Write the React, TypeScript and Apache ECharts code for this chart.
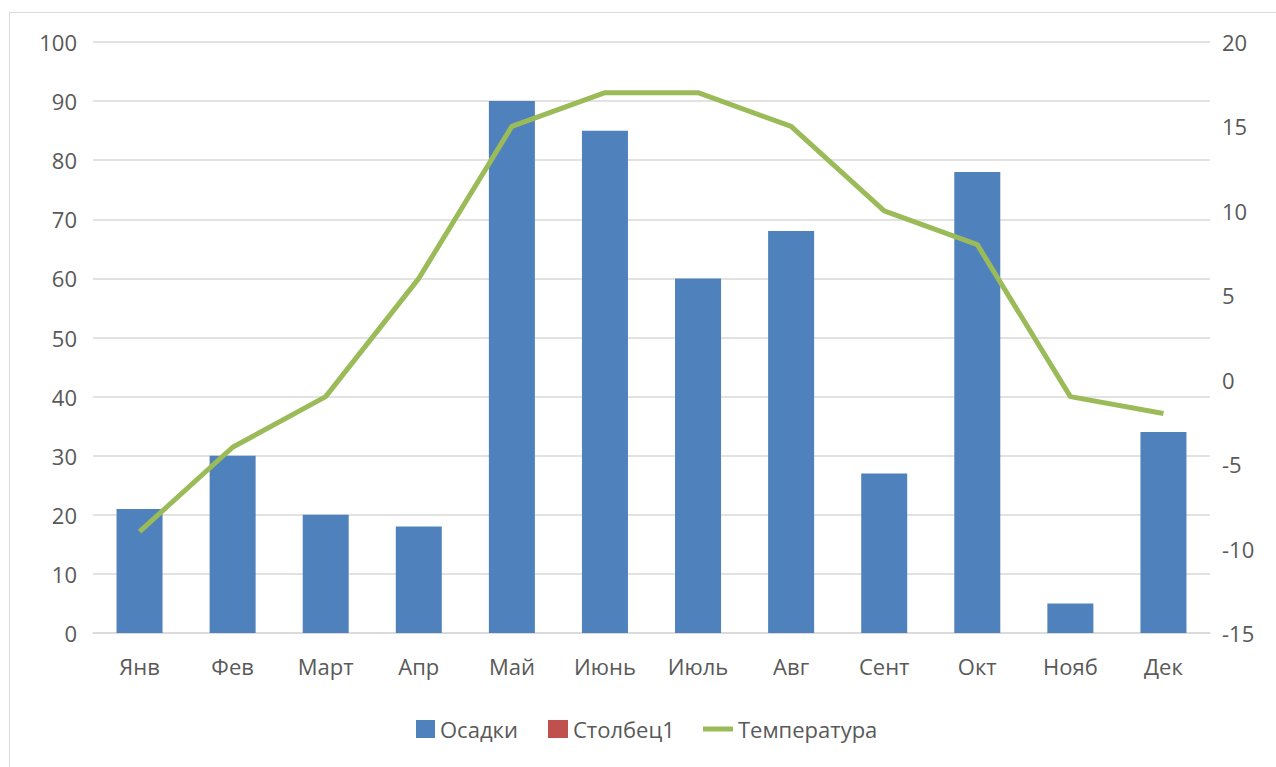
import React, { useEffect, useRef } from "react";
import * as echarts from "echarts";

const categories = ["Янв", "Фев", "Март", "Апр", "Май", "Июнь", "Июль", "Авг", "Сент", "Окт", "Нояб", "Дек"];
const precipitation = [21, 30, 20, 18, 90, 85, 60, 68, 27, 78, 5, 34];
const column1: (number | null)[] = [null, null, null, null, null, null, null, null, null, null, null, null];
const temperature = [-9, -4, -1, 6, 15, 17, 17, 15, 10, 8, -1, -2];

const FONT = "'Open Sans', 'Noto Sans', sans-serif";
const TXT = "#595959";
const FS = 22;

export default function App() {
  const ref = useRef<HTMLDivElement>(null);
  useEffect(() => {
    const chart = echarts.init(ref.current!, null, { renderer: "svg" });
    const legendText = { color: TXT, fontSize: FS, fontFamily: FONT };
    chart.setOption({
      animation: false,
      backgroundColor: "#fff",
      graphic: [
        {
          type: "rect",
          shape: { x: 9.5, y: 12.5, width: 1300, height: 800 },
          style: { fill: "none", stroke: "#d9d9d9", lineWidth: 1 },
          silent: true,
        },
      ],
      grid: { left: 93, right: 66, top: 42, bottom: 134, containLabel: false },
      legend: [
        {
          left: 416,
          top: 718,
          padding: 0,
          itemWidth: 19,
          itemHeight: 18,
          textStyle: legendText,
          data: [{ name: "Осадки", icon: "rect" }],
        },
        {
          left: 548,
          top: 718,
          padding: 0,
          itemWidth: 20,
          itemHeight: 18,
          textStyle: legendText,
          data: [{ name: "Столбец1", icon: "rect" }],
        },
        {
          left: 703,
          top: 718,
          padding: 0,
          itemWidth: 30,
          itemHeight: 5,
          textStyle: legendText,
          data: [{ name: "Температура", icon: "rect" }],
        },
      ],
      xAxis: {
        type: "category",
        data: categories,
        axisLine: { show: true, lineStyle: { color: "#d9d9d9", width: 1.5 } },
        axisTick: { show: false },
        axisLabel: { color: TXT, fontSize: FS, fontFamily: FONT, margin: 22 },
      },
      yAxis: [
        {
          type: "value",
          min: 0,
          max: 100,
          interval: 10,
          axisLine: { show: false },
          axisTick: { show: false },
          axisLabel: { color: TXT, fontSize: FS, fontFamily: FONT, margin: 16 },
          splitLine: { lineStyle: { color: "#d9d9d9", width: 1.5 } },
        },
        {
          type: "value",
          min: -15,
          max: 20,
          interval: 5,
          axisLine: { show: false },
          axisTick: { show: false },
          axisLabel: { color: TXT, fontSize: FS, fontFamily: FONT, margin: 12 },
          splitLine: { show: false },
        },
      ],
      series: [
        {
          name: "Осадки",
          type: "bar",
          data: precipitation,
          barWidth: 46,
          barGap: "-100%",
          itemStyle: { color: "#4f81bd" },
        },
        {
          name: "Столбец1",
          type: "bar",
          data: column1,
          barWidth: 46,
          itemStyle: { color: "#c0504d" },
        },
        {
          name: "Температура",
          type: "line",
          yAxisIndex: 1,
          data: temperature,
          symbol: "none",
          lineStyle: { color: "#9bbb59", width: 5 },
          itemStyle: { color: "#9bbb59" },
        },
      ],
    });
    return () => chart.dispose();
  }, []);
  return (
    <div
      ref={ref}
      style={{ position: "fixed", left: 0, top: 0, width: 1276, height: 767 }}
    />
  );
}
